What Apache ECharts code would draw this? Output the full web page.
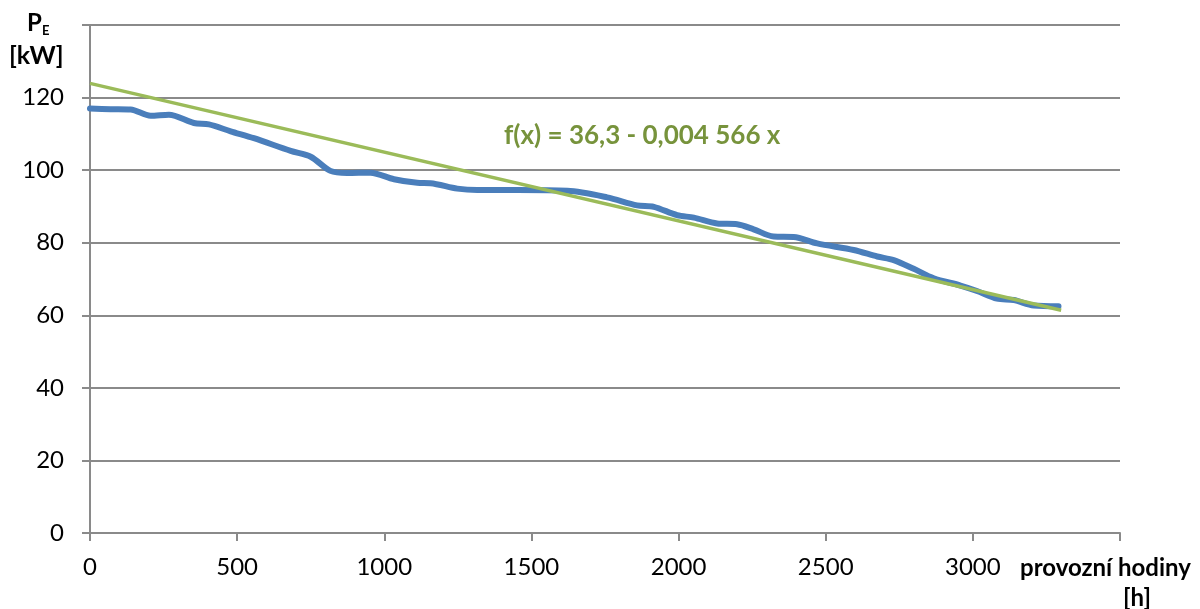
<!DOCTYPE html>
<html>
<head>
<meta charset="utf-8">
<script src="https://cdn.jsdelivr.net/npm/echarts@6/dist/echarts.min.js"></script>
<style>html,body{margin:0;padding:0;background:#fff}#c{width:1200px;height:609px}</style>
</head>
<body>
<div id="c"></div>
<script>
// operating hours [h]
const hours = [0, 70, 138, 206, 268, 353, 404, 478, 557, 682, 750, 817, 874, 953, 1033, 1112, 1157, 1248, 1316, 1452, 1622, 1757, 1859, 1916, 1995, 2052, 2131, 2199, 2255, 2323, 2391, 2471, 2595, 2675, 2731, 2799, 2867, 2958, 3014, 3082, 3139, 3207, 3291];
// electrical power P_E [kW]
const power = [117.0, 116.8, 116.7, 115.0, 115.3, 113.0, 112.6, 110.7, 108.8, 105.3, 103.7, 99.8, 99.2, 99.3, 97.5, 96.5, 96.4, 94.9, 94.5, 94.5, 94.3, 92.5, 90.3, 89.9, 87.6, 86.9, 85.3, 85.1, 83.7, 81.7, 81.6, 79.8, 78.0, 76.2, 75.2, 72.8, 70.2, 68.2, 66.7, 64.6, 64.2, 62.7, 62.5];
// linear trend line end points
const trendX = [0, 3300];
const trendY = [123.9, 61.4];
const trendLabel = 'f(x) = 36,3 - 0,004 566 x';
const xTicks = [0, 500, 1000, 1500, 2000, 2500, 3000];
const yTicks = [0, 20, 40, 60, 80, 100, 120];

const FONT = 'Lato';
const chart = echarts.init(document.getElementById('c'), null, {renderer: 'canvas'});
const grid = {left: 90, right: 80, top: 25, bottom: 76};
function txt(text, x, y, font, fill, align) {
  return {type: 'text', x: x, y: y, style: {text: text, fill: fill || '#000', font: font, align: align || 'left', verticalAlign: 'middle'}};
}
chart.setOption({
  animation: false,
  backgroundColor: '#ffffff',
  textStyle: {fontFamily: FONT},
  grid: grid,
  xAxis: {
    type: 'value', min: 0, max: 3500, interval: 500,
    axisLine: {show: true, lineStyle: {color: '#8a8a8a', width: 2}},
    axisTick: {show: true, length: 8, lineStyle: {color: '#8a8a8a', width: 2}},
    splitLine: {show: false},
    axisLabel: {
      color: '#000', fontSize: 24, fontFamily: FONT, margin: 22,
      formatter: v => xTicks.includes(v) ? String(v) : ''
    }
  },
  yAxis: {
    type: 'value', min: 0, max: 140, interval: 20,
    axisLine: {show: true, lineStyle: {color: '#8a8a8a', width: 2}},
    axisTick: {show: true, length: 8, lineStyle: {color: '#8a8a8a', width: 2}},
    splitLine: {show: true, lineStyle: {color: '#8a8a8a', width: 2}},
    axisLabel: {
      color: '#000', fontSize: 24, fontFamily: FONT, margin: 26,
      formatter: v => yTicks.includes(v) ? String(v) : ''
    }
  },
  series: [
    {
      type: 'line', name: 'P_E', smooth: 0.3, symbol: 'none',
      data: hours.map((h, i) => [h, power[i]]),
      lineStyle: {color: '#4a7ebb', width: 6, cap: 'round', join: 'round'},
      z: 2
    },
    {
      type: 'line', name: 'trend', symbol: 'none',
      data: trendX.map((h, i) => [h, trendY[i]]),
      lineStyle: {color: '#9bbb59', width: 3.5},
      z: 3
    }
  ],
  graphic: [
    txt(trendLabel, 504, 136, 'bold 26px ' + FONT, '#77933c'),
    txt('P', 27, 23, 'bold 24px ' + FONT),
    txt('E', 42, 31, 'bold 13px ' + FONT),
    txt('[kW]', 9, 56, 'bold 25px ' + FONT),
    txt('provozní hodiny', 1020, 568, 'bold 24px ' + FONT),
    txt('[h]', 1137, 598, 'bold 24px ' + FONT, '#000', 'center')
  ]
});
</script>
</body>
</html>
